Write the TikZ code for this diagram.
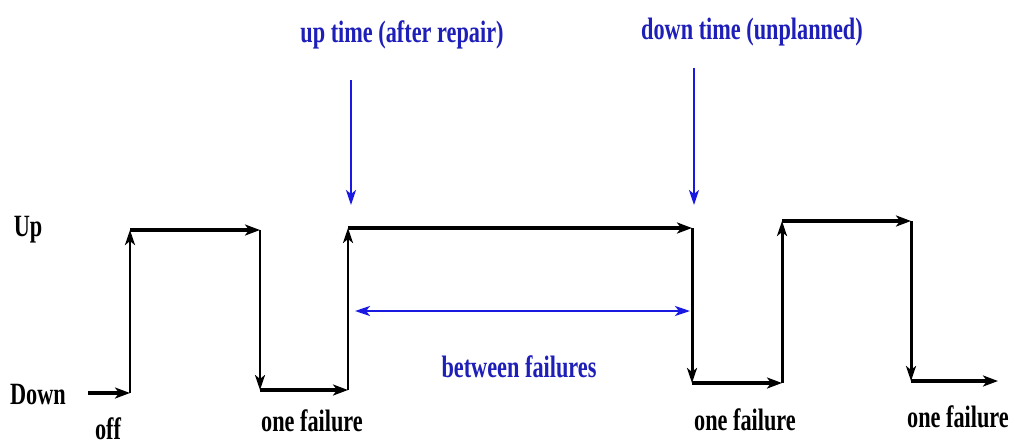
\documentclass[tikz,border=0pt]{standalone}
\usepackage{fontspec}
\setmainfont{Liberation Serif}
\usetikzlibrary{arrows.meta}
\definecolor{ptrblue}{RGB}{25,25,225}
\definecolor{txtblue}{RGB}{30,30,185}
\begin{document}
\begin{tikzpicture}[x=0.01cm,y=-0.01cm,
  lbl/.style={font=\fontsize{8.8}{10}\selectfont\bfseries,xscale=0.72,inner sep=0pt},
  bluelbl/.style={lbl,text=txtblue},
  hor/.style={line width=1.25pt,-{Stealth[length=1.5mm,width=1.1mm,inset=0.4mm]}},
  ver/.style={line width=0.85pt,-{Stealth[length=1.5mm,width=1mm,inset=0.4mm]}},
  ptr/.style={ptrblue,line width=0.65pt,-{Stealth[length=1.5mm,width=1mm,inset=0.4mm]}}]
  \useasboundingbox (0,0) rectangle (1015,442);
  % levels
  \node[lbl] (up) at (28,230) {Up};
  \node[lbl] (down) at (38,395) {Down};
  \node[lbl] (off) at (108,429) {off};
  % waveform corners
  \coordinate (s) at (88,393);
  \coordinate (a0) at (130,393); \coordinate (a1) at (130,230);
  \coordinate (b1) at (260,230); \coordinate (b0) at (260,390);
  \coordinate (c0) at (348,390); \coordinate (c1) at (348,228);
  \coordinate (d1) at (692,228); \coordinate (d0) at (692,383);
  \coordinate (e0) at (782,383); \coordinate (e1) at (782,221);
  \coordinate (f1) at (911,221); \coordinate (f0) at (911,381);
  \coordinate (g0) at (998,381);
  \draw[hor] (s) -- (a0);
  \draw[ver] (a0) -- (a1);
  \draw[hor] (a1) -- (b1);
  \draw[ver] (b1) -- (b0);
  \draw[hor] (b0) -- (c0);
  \draw[ver] (c0) -- (c1);
  \draw[hor] (c1) -- (d1);
  \draw[ver] (d1) -- (d0);
  \draw[hor] (d0) -- (e0);
  \draw[ver] (e0) -- (e1);
  \draw[hor] (e1) -- (f1);
  \draw[ver] (f1) -- (f0);
  \draw[hor] (f0) -- (g0);
  \node[lbl] (fail1) at (312,421) {one failure};
  \node[lbl] (fail2) at (745,420) {one failure};
  \node[lbl] (fail3) at (958,417) {one failure};
  % blue notes
  \node[bluelbl] (uptime) at (402,35) {up time (after repair)};
  \node[bluelbl] (downtime) at (752,32) {down time (unplanned)};
  \node[bluelbl] (between) at (519,367) {between failures};
  \coordinate (u0) at (351,80); \coordinate (u1) at (351,205);
  \coordinate (v0) at (694,68); \coordinate (v1) at (694,205);
  \coordinate (m0) at (355,311); \coordinate (m1) at (690,311);
  \draw[ptr] (u0) -- (u1);
  \draw[ptr] (v0) -- (v1);
  \draw[ptr,{Stealth[length=1.5mm,width=1mm,inset=0.4mm]}-{Stealth[length=1.5mm,width=1mm,inset=0.4mm]}] (m0) -- (m1);
\end{tikzpicture}
\end{document}
